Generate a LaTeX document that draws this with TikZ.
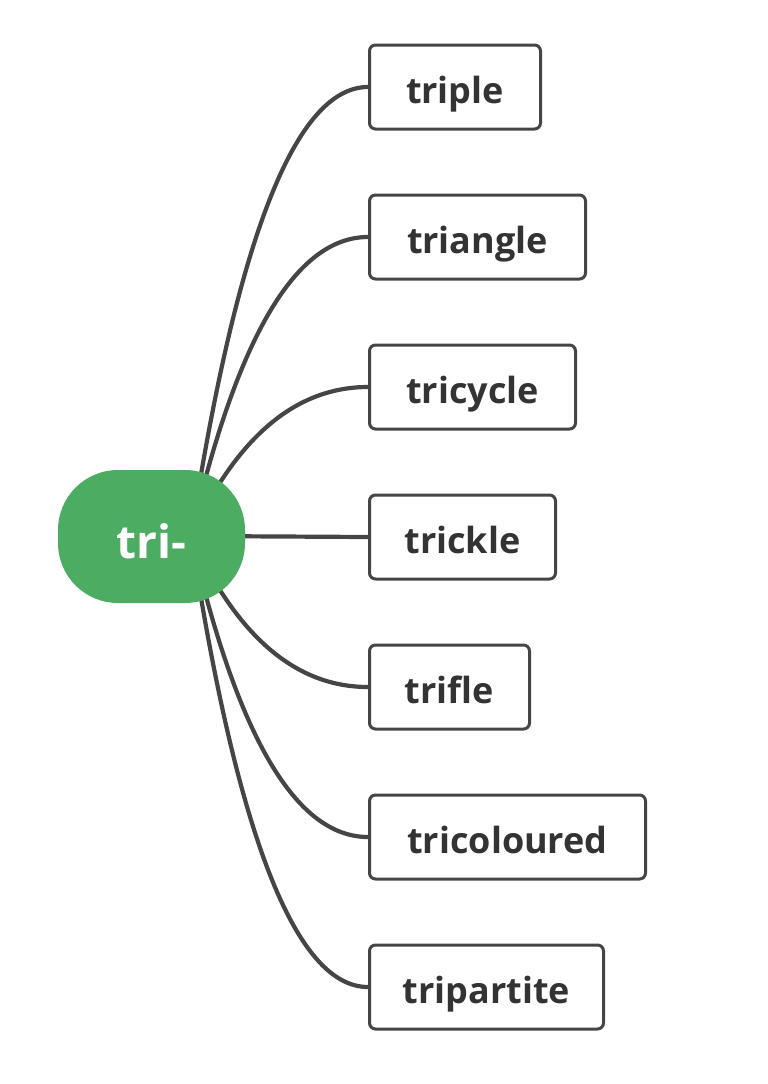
\documentclass[tikz,border=0pt]{standalone}
\usepackage{fontspec}
\setmainfont{Open Sans}
\usetikzlibrary{backgrounds,calc}
\definecolor{linegray}{RGB}{69,69,69}
\definecolor{textgray}{RGB}{51,51,51}
\definecolor{hubgreen}{RGB}{76,173,98}
\begin{document}
\begin{tikzpicture}[x=1pt,y=-1pt,
  wordbox/.style={draw=linegray, line width=3pt, rounded corners=6pt, fill=white,
    anchor=west, minimum height=84pt, minimum width=#1, inner sep=0pt,
    text height=36pt, text depth=4pt,
    text=textgray, font=\fontsize{36}{42}\selectfont\bfseries},
  hubnode/.style={fill=hubgreen, rounded corners=60pt, minimum width=187pt,
    minimum height=133pt, inner sep=0pt, text=white,
    text height=47pt, text depth=4pt,
    font=\fontsize{46}{52}\selectfont\bfseries},
  link/.style={draw=linegray, line width=4.2pt}]
\useasboundingbox (0,0) rectangle (768,1084);
\node[hubnode] (root) at (151.5,536.5) {tri-};
\coordinate (hub) at (191,536);
\coordinate (cx) at (260,0);
\node[wordbox=171pt] (b1) at (368,87) {triple};
\node[wordbox=216pt] (b2) at (368,237) {triangle};
\node[wordbox=206pt] (b3) at (368,387) {tricycle};
\node[wordbox=186pt] (b4) at (368,537) {trickle};
\node[wordbox=160pt] (b5) at (368,687) {trifle};
\node[wordbox=276pt] (b6) at (368,837) {tricoloured};
\node[wordbox=234pt] (b7) at (368,987) {tripartite};
\begin{scope}[on background layer]
\foreach \b in {b1,b2,b3,b5,b6,b7}{
  \coordinate (q) at (cx |- \b.west);
  \draw[link] (hub) .. controls ($(hub)!2/3!(q)$) and ($(\b.west)!2/3!(q)$) .. (\b.west);
}
\draw[link] (hub) -- (b4.west);
\end{scope}
\end{tikzpicture}
\end{document}
